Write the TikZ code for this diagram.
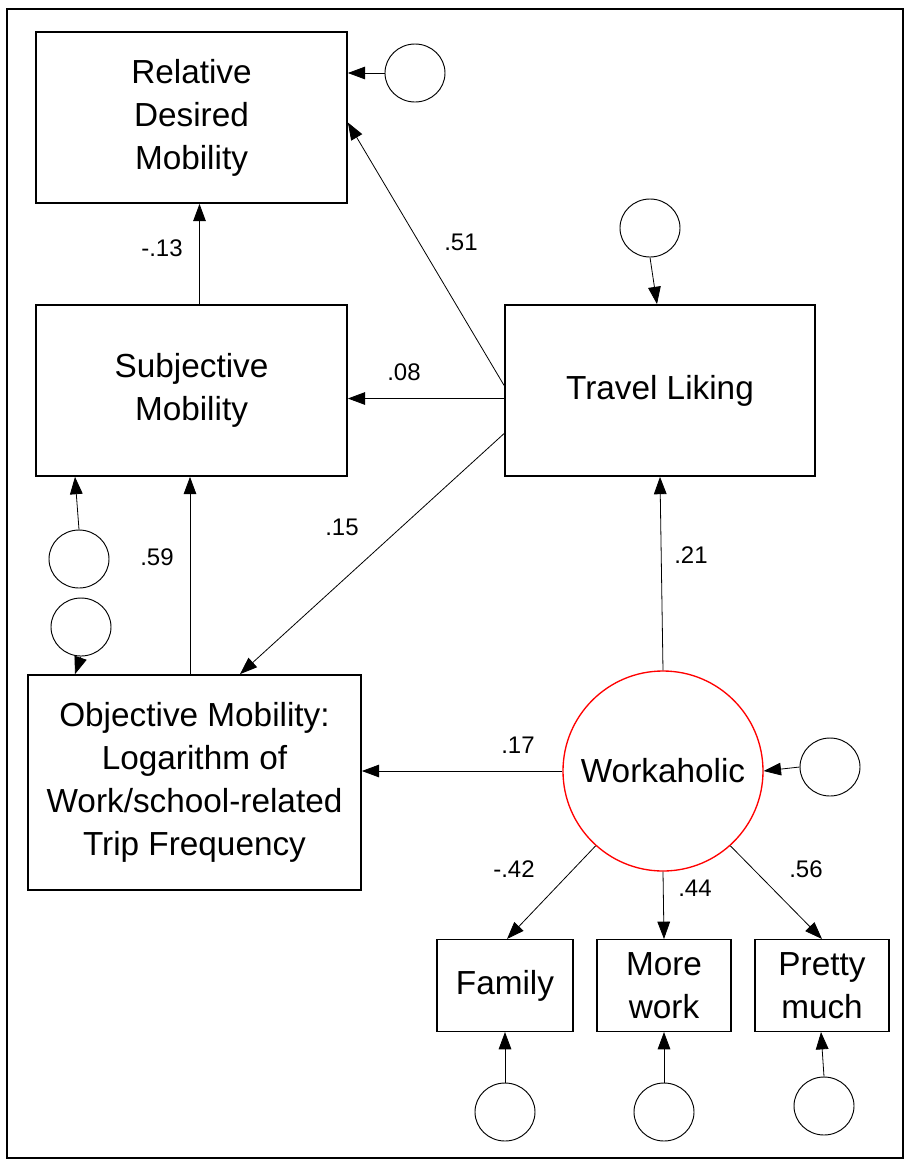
\documentclass[tikz,border=0pt]{standalone}
\usepackage{fontspec}
\setmainfont{Liberation Sans}
\usetikzlibrary{arrows.meta,calc,shapes.geometric}

\begin{document}
\begin{tikzpicture}[x=0.75pt,y=-0.75pt,
  varbox/.style={draw,line width=1.3pt,align=center,inner sep=0pt,
    font=\fontsize{25}{32.25}\selectfont},
  errc/.style={draw,ellipse,line width=0.7pt,minimum width=45pt,minimum height=43.5pt,inner sep=0pt},
  latent/.style={draw=red,circle,line width=1pt,minimum size=150pt,inner sep=0pt,
    font=\fontsize{25}{32.25}\selectfont},
  path/.style={line width=0.6pt,-{Triangle[length=13pt,width=9.5pt]}},
  coef/.style={font=\fontsize{18}{21}\selectfont,inner sep=0pt}]

\useasboundingbox (0,0) rectangle (906,1161);
\draw[line width=1.5pt] (7,9) rectangle (903,1158);

% observed variables
\node[varbox,minimum width=233.25pt,minimum height=128.25pt] (rdm) at (191.5,117.5) {Relative\\Desired\\Mobility};
\node[varbox,minimum width=233.25pt,minimum height=128.25pt] (sm) at (191.5,390.5) {Subjective\\Mobility};
\node[varbox,minimum width=232.5pt,minimum height=128.25pt] (tl) at (660,390.5) {Travel Liking};
\node[varbox,minimum width=249.75pt,minimum height=161.25pt] (om) at (194.5,782.5)
  {Objective Mobility:\\Logarithm of\\Work/school-related\\Trip Frequency};
\node[varbox,line width=0.8pt,minimum width=102pt,minimum height=69pt] (fam) at (505,985.5) {Family};
\node[varbox,line width=0.8pt,minimum width=100.5pt,minimum height=69pt] (more) at (664,985.5) {More\\work};
\node[varbox,line width=0.8pt,minimum width=100.5pt,minimum height=69pt] (pretty) at (822,985.5) {Pretty\\much};

% latent factor
\node[latent] (wk) at (663,771) {Workaholic};

% error terms
\node[errc] (erdm) at (415,73) {};
\node[errc] (etl) at (650,228) {};
\node[errc] (esm) at (79,559) {};
\node[errc] (eom) at (81,627) {};
\node[errc] (ewk) at (830,767) {};
\node[errc] (efam) at (505,1112) {};
\node[errc] (emore) at (664,1112) {};
\node[errc] (epretty) at (824,1106) {};

% structural paths
\draw[path] ($(tl.west)+(0,-5)$) -- ($(rdm.east)+(0,5)$);
\draw[path] ($(tl.west)+(0,8)$) -- ($(sm.east)+(0,8)$);
\draw[path] ($(tl.west)+(0,43)$) -- ($(om.north)+(45.5,0)$);
\draw[path] ($(sm.north)+(8,0)$) -- ($(rdm.south)+(8,0)$);
\draw[path] ($(om.north)+(-4.5,0)$) -- ($(sm.south)+(-1.5,0)$);
\draw[path] (wk.north) -- (tl.south);
\draw[path] (wk.west) -- (wk.west -| om.east);

% measurement paths
\draw[path] (wk.228) -- ($(fam.north)+(2,0)$);
\draw[path] (wk.south) -- (more.north);
\draw[path] (wk.312) -- (pretty.north);

% error paths
\draw[path] (erdm.west) -- (erdm.west -| rdm.east);
\draw[path] (etl.south) -- ($(tl.north)+(-3,0)$);
\draw[path] (esm.north) -- ($(sm.south)+(-116.5,0)$);
\draw[path] (eom.south) -- ($(om.north)+(-119.5,0)$);
\draw[path] (ewk.west) -- (wk.east);
\draw[path] (efam.north) -- (fam.south);
\draw[path] (emore.north) -- (more.south);
\draw[path] (epretty.north) -- ($(pretty.south)+(-1,0)$);

% coefficients
\node[coef] (c51) at (461,242) {.51};
\node[coef] (c13) at (162,248) {-.13};
\node[coef] (c08) at (404,372) {.08};
\node[coef] (c15) at (342,527) {.15};
\node[coef] (c59) at (157,557) {.59};
\node[coef] (c21) at (691,555) {.21};
\node[coef] (c17) at (518,745) {.17};
\node[coef] (c42) at (514,869) {-.42};
\node[coef] (c44) at (695,888) {.44};
\node[coef] (c56) at (806,869) {.56};
\end{tikzpicture}
\end{document}
